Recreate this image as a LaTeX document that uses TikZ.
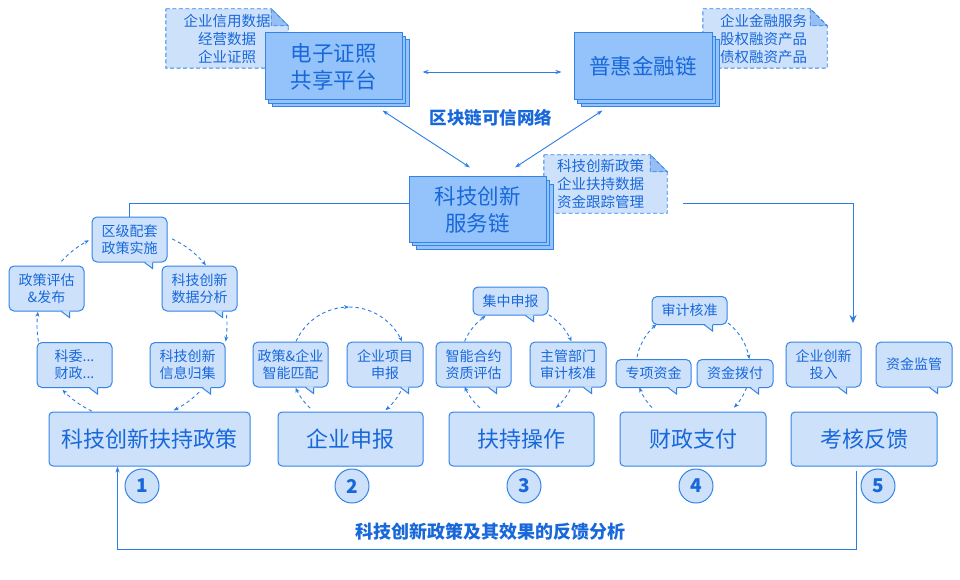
\documentclass[tikz,border=0pt]{standalone}
\usepackage{fontspec}
\setmainfont{Noto Sans CJK SC}
\usetikzlibrary{arrows.meta,shadows,calc}
\definecolor{bordc}{RGB}{52,132,232}
\definecolor{txtc}{RGB}{24,104,218}
\definecolor{stackc}{RGB}{148,194,250}
\definecolor{lightc}{RGB}{205,225,251}
\definecolor{foldc}{RGB}{150,190,245}
\definecolor{linec}{RGB}{45,125,230}
\pgfdeclarelayer{background}
\pgfsetlayers{background,main}
\newcommand\cycarc[5]{\draw[cycline] plot[domain=#4:#5,samples=16,smooth] ({#1+#3*cos(\x)},{#2+#3*sin(\x)});}
\newcommand\ctail[1]{%
  \fill[lightc] ([xshift=-23pt,yshift=1.2pt]#1.south east) -- ([xshift=-15pt,yshift=-6pt]#1.south east) -- ([xshift=-15pt,yshift=1.2pt]#1.south east) -- cycle;
  \draw[bordc,line width=1pt] ([xshift=-23pt]#1.south east) -- ([xshift=-15pt,yshift=-6pt]#1.south east) -- ([xshift=-15pt]#1.south east);}
\newcommand\notebox[1]{%
  \path[notepath] (#1.north west) -- ([xshift=-17pt]#1.north east) -- ([yshift=-17pt]#1.north east) -- (#1.south east) -- (#1.south west) -- cycle;
  \path[notepath,fill=foldc] ([xshift=-17pt]#1.north east) -- ([xshift=-17pt,yshift=-17pt]#1.north east) -- ([yshift=-17pt]#1.north east) -- cycle;}
\begin{document}
\begin{tikzpicture}[x=1pt,y=-1pt,
  every node/.style={text=txtc},
  stackbox/.style={draw=bordc, fill=stackc, line width=1pt, align=center, inner sep=0pt,
     font=\fontsize{21.5}{27}\selectfont,
     copy shadow={shadow xshift=7pt,shadow yshift=-7pt,fill=stackc,draw=bordc},
     copy shadow={shadow xshift=3.5pt,shadow yshift=-3.5pt,fill=stackc,draw=bordc}},
  notetext/.style={font=\fontsize{14.5}{18}\selectfont, inner sep=0pt, minimum height=59pt},
  notepath/.style={draw=bordc, fill=lightc, line width=0.9pt, dash pattern=on 4pt off 2.5pt},
  callout/.style={draw=bordc, fill=lightc, line width=1pt, rounded corners=5pt, align=center, inner sep=0pt, minimum width=75pt, minimum height=45pt, font=\fontsize{14}{17}\selectfont},
  stage/.style={draw=bordc, fill=lightc, line width=1pt, rounded corners=4pt, minimum height=54pt, inner sep=0pt, font=\fontsize{22}{22}\selectfont},
  numc/.style={circle, draw=bordc, fill=lightc, line width=1pt, minimum size=34pt, inner sep=0pt, font=\fontsize{19}{19}\selectfont\bfseries},
  conn/.style={draw=linec, line width=0.9pt},
  cycline/.style={draw=linec, line width=0.9pt, dash pattern=on 3.5pt off 3pt, -{Stealth[length=5pt,width=4pt]}},
  bigtitle/.style={font=\fontsize{17.5}{17.5}\selectfont\bfseries, inner sep=0pt},
]
\useasboundingbox (0,0) rectangle (960,580);

% notes (text)
\node[notetext, minimum width=122pt, align=center] (n1) at (227,38.5) {企业信用数据\\经营数据\\企业证照};
\node[notetext, text width=90pt, inner xsep=17pt, align=left] (n2) at (765,38.5) {企业金融服务\\股权融资产品\\债权融资产品};
\node[notetext, text width=97pt, inner xsep=13pt, align=left, minimum height=58pt] (n3) at (605.5,184) {科技创新政策\\企业扶持数据\\资金跟踪管理};
\begin{pgfonlayer}{background}
  \fill[white] (0,0) rectangle (960,580);
  \notebox{n1}
  \notebox{n2}
  \notebox{n3}
\end{pgfonlayer}

% stacked boxes
\node[stackbox, minimum width=137pt, minimum height=67pt] (cert) at (333.5,66.5) {电子证照\\共享平台};
\node[stackbox, minimum width=138pt, minimum height=67pt] (fin) at (643,66.5) {普惠金融链};
\node[stackbox, minimum width=137pt, minimum height=65pt] (srv) at (477.5,209.5) {科技创新\\服务链};

% top connectors
\draw[conn, {Stealth[length=6pt,width=4pt]}-{Stealth[length=6pt,width=4pt]}] ([xshift=20pt,yshift=-5.5pt]cert.east) -- ([xshift=-12pt,yshift=-5.5pt]fin.west);
\draw[conn, {Stealth[length=6pt,width=4pt]}-{Stealth[length=6pt,width=4pt]}] ([xshift=-20pt,yshift=-10pt]cert.south east) -- ([xshift=-7.5pt,yshift=9pt]srv.north);
\draw[conn, {Stealth[length=6pt,width=4pt]}-{Stealth[length=6pt,width=4pt]}] ([xshift=29pt,yshift=-10pt]fin.south west) -- ([xshift=37.5pt,yshift=9pt]srv.north);
\node[bigtitle] (chain) at (491,118) {区块链可信网络};

% callouts
\node[callout] (c1a) at (129.5,239.5) {区级配套\\政策实施};
\node[callout] (c1b) at (199.5,288.5) {科技创新\\数据分析};
\node[callout] (c1c) at (187.5,365) {科技创新\\信息归集};
\node[callout] (c1d) at (74.5,365) {科委...\\财政...};
\node[callout] (c1e) at (46.5,288.5) {政策评估\\\&发布};
\node[callout] (c2a) at (290.5,364.5) {政策\&企业\\智能匹配};
\node[callout, minimum width=76pt] (c2b) at (385,364.5) {企业项目\\申报};
\node[callout, minimum height=28pt] (c3a) at (510.5,301) {集中申报};
\node[callout] (c3b) at (473.5,364.5) {智能合约\\资质评估};
\node[callout, minimum width=76pt] (c3c) at (568,364.5) {主管部门\\审计核准};
\node[callout, minimum height=28pt] (c4a) at (689.5,310.5) {审计核准};
\node[callout, minimum height=28pt] (c4b) at (653.5,373.5) {专项资金};
\node[callout, minimum height=28pt, minimum width=76pt] (c4c) at (735,373.5) {资金拨付};
\node[callout] (c5a) at (823.5,364.5) {企业创新\\投入};
\node[callout, minimum width=76pt] (c5b) at (914,364.5) {资金监管};
\foreach \n in {c1a,c1b,c1c,c1d,c1e,c2a,c2b,c3a,c3b,c3c,c4a,c4b,c4c,c5a,c5b}{\ctail{\n}}

% service chain side lines
\draw[conn] ([yshift=6.5pt]srv.west) -| (c1a.north);
\coordinate (rs) at (683,203);
\coordinate (re) at (853,323);
\draw[conn, -{Stealth[length=8pt,width=7pt]}] (rs) -| (re);

% stages
\node[stage, minimum width=201pt] (b1) at (149.5,439) {科技创新扶持政策};
\node[stage, minimum width=145pt] (b2) at (350.5,439) {企业申报};
\node[stage, minimum width=145pt] (b3) at (521.5,439) {扶持操作};
\node[stage, minimum width=146pt] (b4) at (693,439) {财政支付};
\node[stage, minimum width=146pt] (b5) at (864,439) {考核反馈};

% numbers
\node[numc] (k1) at (142,486) {1};
\node[numc] (k2) at (352,486) {2};
\node[numc] (k3) at (524,486) {3};
\node[numc] (k4) at (696,486) {4};
\node[numc] (k5) at (878,486) {5};

% cycles
\cycarc{132}{325}{95}{-138}{-117}
\cycarc{132}{325}{95}{-65}{-39}
\cycarc{132}{325}{95}{-6}{10}
\cycarc{132}{325}{95}{45}{64}
\cycarc{132}{325}{95}{115}{137}
\cycarc{132}{325}{95}{170}{188}
\cycarc{349}{365}{58}{-156}{-90}
\cycarc{349}{365}{58}{-90}{-24}
\cycarc{349}{365}{58}{27}{51}
\cycarc{349}{365}{58}{132}{157}
\cycarc{518}{364}{58}{-157}{-124}
\cycarc{518}{364}{58}{-58}{-23}
\cycarc{518}{364}{58}{26}{49}
\cycarc{518}{364}{58}{131}{157}
\cycarc{693}{368}{57}{-169}{-130}
\cycarc{693}{368}{57}{-52}{-9}
\cycarc{693}{368}{57}{20}{44}
\cycarc{693}{368}{57}{136}{160}

% feedback loop
\coordinate (fb) at (856,471);
\draw[conn, -{Stealth[length=6pt,width=4pt]}] (fb) -- ++(0,78) -| ([xshift=69pt]b1.south west);
\node[bigtitle, font=\fontsize{18}{18}\selectfont\bfseries] (fbl) at (490,532) {科技创新政策及其效果的反馈分析};
\end{tikzpicture}
\end{document}
